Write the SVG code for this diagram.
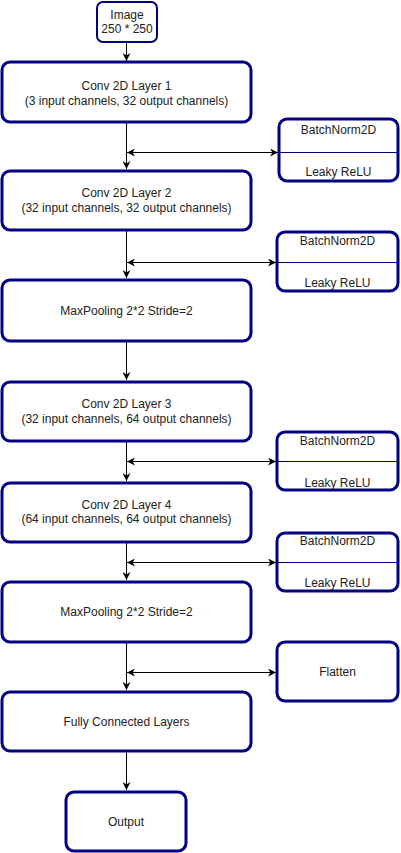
<svg xmlns="http://www.w3.org/2000/svg" width="401" height="853" viewBox="0 0 401 853">
<style>
.box{fill:#fff;stroke:#000080;stroke-width:3}
.sm{stroke-width:2}
.div{stroke:#000080;stroke-width:1}
.t{font-family:"Liberation Sans",Arial,sans-serif;font-size:12px;fill:#222;text-anchor:middle}
.c{stroke:#000;stroke-width:1;fill:none}
</style>
<defs>
<marker id="ah" viewBox="0 0 10 10" refX="10" refY="5" markerWidth="8" markerHeight="8" markerUnits="userSpaceOnUse" orient="auto-start-reverse">
<path d="M0,0 L10,5 L0,10 L3,5 Z" fill="#000"/>
</marker>
</defs>
<g id="connectors">
<line class="c" x1="126.5" y1="42" x2="126.5" y2="61" marker-end="url(#ah)"/>
<line class="c" x1="126.5" y1="123" x2="126.5" y2="169" marker-end="url(#ah)"/>
<line class="c" x1="127" y1="152.5" x2="278" y2="152.5" marker-start="url(#ah)" marker-end="url(#ah)"/>
<line class="c" x1="126.5" y1="231" x2="126.5" y2="278" marker-end="url(#ah)"/>
<line class="c" x1="127" y1="262.5" x2="276" y2="262.5" marker-start="url(#ah)" marker-end="url(#ah)"/>
<line class="c" x1="126.5" y1="342" x2="126.5" y2="380" marker-end="url(#ah)"/>
<line class="c" x1="126.5" y1="442" x2="126.5" y2="481" marker-end="url(#ah)"/>
<line class="c" x1="127" y1="461.5" x2="276" y2="461.5" marker-start="url(#ah)" marker-end="url(#ah)"/>
<line class="c" x1="126.5" y1="543" x2="126.5" y2="580" marker-end="url(#ah)"/>
<line class="c" x1="127" y1="562.5" x2="276" y2="562.5" marker-start="url(#ah)" marker-end="url(#ah)"/>
<line class="c" x1="126.5" y1="642" x2="126.5" y2="690" marker-end="url(#ah)"/>
<line class="c" x1="127" y1="672.5" x2="276" y2="672.5" marker-start="url(#ah)" marker-end="url(#ah)"/>
<line class="c" x1="126.5" y1="752" x2="126.5" y2="790" marker-end="url(#ah)"/>
</g>
<g id="image">
<rect class="box sm" x="97" y="2" width="60" height="40" rx="6"/>
<text class="t" x="127" y="19">Image</text>
<text class="t" x="127" y="33">250 * 250</text>
</g>
<g id="conv1">
<rect class="box" x="2" y="62" width="249" height="60" rx="8"/>
<text class="t" x="126.5" y="90">Conv 2D Layer 1</text>
<text class="t" x="126.5" y="105">(3 input channels, 32 output channels)</text>
</g>
<g id="bn1">
<rect class="box" x="279" y="119" width="119" height="62" rx="8"/>
<line class="div" x1="280" y1="152.5" x2="397" y2="152.5"/>
<text class="t" x="338.5" y="134">BatchNorm2D</text>
<text class="t" x="338.5" y="176">Leaky ReLU</text>
</g>
<g id="conv2">
<rect class="box" x="2" y="171" width="249" height="59" rx="8"/>
<text class="t" x="126.5" y="197">Conv 2D Layer 2</text>
<text class="t" x="126.5" y="212">(32 input channels, 32 output channels)</text>
</g>
<g id="bn2">
<rect class="box" x="277" y="232" width="121" height="59" rx="8"/>
<line class="div" x1="278" y1="262.5" x2="397" y2="262.5"/>
<text class="t" x="337.5" y="245">BatchNorm2D</text>
<text class="t" x="337.5" y="287">Leaky ReLU</text>
</g>
<g id="maxpool1">
<rect class="box" x="2" y="280" width="249" height="61" rx="8"/>
<text class="t" x="126.5" y="315">MaxPooling 2*2 Stride=2</text>
</g>
<g id="conv3">
<rect class="box" x="2" y="382" width="249" height="59" rx="8"/>
<text class="t" x="126.5" y="408">Conv 2D Layer 3</text>
<text class="t" x="126.5" y="423">(32 input channels, 64 output channels)</text>
</g>
<g id="bn3">
<rect class="box" x="277" y="432" width="121" height="58" rx="8"/>
<line class="div" x1="278" y1="461.5" x2="397" y2="461.5"/>
<text class="t" x="337.5" y="445">BatchNorm2D</text>
<text class="t" x="337.5" y="487">Leaky ReLU</text>
</g>
<g id="conv4">
<rect class="box" x="2" y="483" width="249" height="59" rx="8"/>
<text class="t" x="126.5" y="509">Conv 2D Layer 4</text>
<text class="t" x="126.5" y="523">(64 input channels, 64 output channels)</text>
</g>
<g id="bn4">
<rect class="box" x="277" y="533" width="121" height="58" rx="8"/>
<line class="div" x1="278" y1="562.5" x2="397" y2="562.5"/>
<text class="t" x="337.5" y="545">BatchNorm2D</text>
<text class="t" x="337.5" y="587">Leaky ReLU</text>
</g>
<g id="maxpool2">
<rect class="box" x="2" y="582" width="249" height="60" rx="8"/>
<text class="t" x="126.5" y="616">MaxPooling 2*2 Stride=2</text>
</g>
<g id="flatten">
<rect class="box" x="277" y="642" width="121" height="59" rx="8"/>
<text class="t" x="337.5" y="676">Flatten</text>
</g>
<g id="fc">
<rect class="box" x="2" y="692" width="249" height="59" rx="8"/>
<text class="t" x="126.5" y="726">Fully Connected Layers</text>
</g>
<g id="output">
<rect class="box" x="66" y="792" width="120" height="59" rx="8"/>
<text class="t" x="126" y="826">Output</text>
</g>
</svg>
